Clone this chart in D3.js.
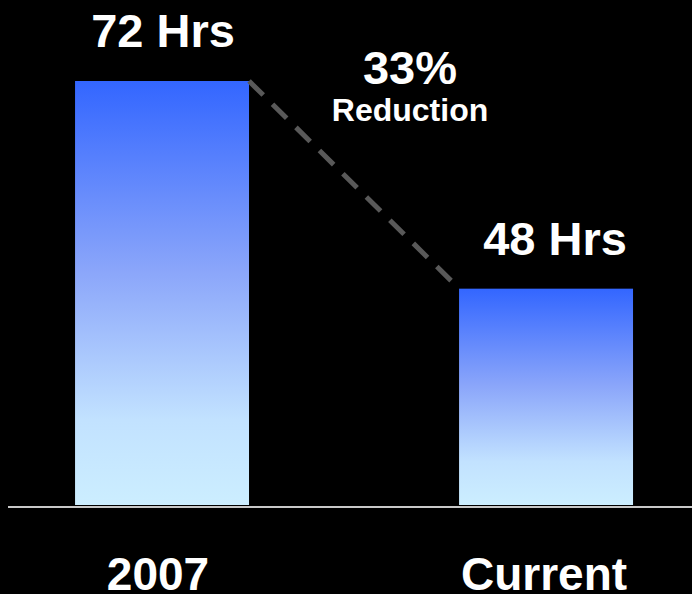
<!DOCTYPE html>
<html>
<head>
<meta charset="utf-8">
<script src="https://cdn.jsdelivr.net/npm/d3@7"></script>
<style>
  html, body { margin: 0; padding: 0; background: #000; }
  svg { display: block; }
  text { font-family: "Liberation Sans", Arial, sans-serif; font-weight: bold; fill: #fff; }
</style>
</head>
<body>
<div id="chart"></div>
<script>
// chart data
var categories = ["2007", "Current"];
var hours = [72, 48];
var valueLabels = ["72 Hrs", "48 Hrs"];
var changeLabel = "33%";
var changeSub = "Reduction";

var svgWidth = 692;
var svgHeight = 594;

var svg = d3.select("#chart")
  .append("svg")
  .attr("width", svgWidth)
  .attr("height", svgHeight);

svg.append("rect")
  .attr("width", svgWidth)
  .attr("height", svgHeight)
  .attr("fill", "#000");

// vertical gradient used by both bars
var grad = svg.append("defs").append("linearGradient")
  .attr("id", "barGrad")
  .attr("x1", 0).attr("y1", 0)
  .attr("x2", 0).attr("y2", 1);
grad.append("stop").attr("offset", "0%").attr("stop-color", "#3366ff");
grad.append("stop").attr("offset", "45%").attr("stop-color", "#8ba6fa");
grad.append("stop").attr("offset", "80%").attr("stop-color", "#c2e2ff");
grad.append("stop").attr("offset", "100%").attr("stop-color", "#cceeff");

var data = categories.map(function(c, i) {
  return { cat: c, hrs: hours[i], label: valueLabels[i] };
});

// scales
var xScale = d3.scaleBand()
  .domain(categories)
  .range([0, svgWidth])
  .paddingInner(0.547)
  .paddingOuter(0.1745)
  .align(0.56);

var yScale = d3.scaleLinear()
  .domain([23, 72])
  .range([505, 81]);

// bars
svg.selectAll("rect.bar")
  .data(data)
  .enter()
  .append("rect")
  .attr("class", "bar")
  .attr("x", d => xScale(d.cat))
  .attr("y", d => yScale(d.hrs))
  .attr("width", xScale.bandwidth())
  .attr("height", d => yScale.range()[0] - yScale(d.hrs))
  .attr("fill", "url(#barGrad)");

// baseline
svg.append("line")
  .attr("x1", 8)
  .attr("x2", svgWidth)
  .attr("y1", 507)
  .attr("y2", 507)
  .attr("stroke", "#c8c8c8")
  .attr("stroke-width", 2);

// dashed connector from top of first bar down toward second
var d0 = data[0], d1 = data[1];
var lx0 = xScale(d0.cat) + xScale.bandwidth();
var ly0 = yScale(d0.hrs);
var lx1 = xScale(d1.cat) - 8;
var ly1 = yScale(d1.hrs) - 8;
svg.append("line")
  .attr("x1", lx0)
  .attr("y1", ly0)
  .attr("x2", lx1)
  .attr("y2", ly1)
  .attr("stroke", "#595959")
  .attr("stroke-width", 5)
  .attr("stroke-dasharray", "20,13");

// value labels above bars
svg.selectAll("text.value")
  .data(data)
  .enter()
  .append("text")
  .attr("class", "value")
  .attr("x", (d, i) => xScale(d.cat) + xScale.bandwidth() / 2 + (i === 1 ? 9 : 1))
  .attr("y", d => yScale(d.hrs) - 34)
  .attr("text-anchor", "middle")
  .attr("font-size", "47px")
  .text(d => d.label);

// category labels
svg.selectAll("text.cat")
  .data(data)
  .enter()
  .append("text")
  .attr("class", "cat")
  .attr("x", (d, i) => xScale(d.cat) + xScale.bandwidth() / 2 + (i === 0 ? -4 : -2))
  .attr("y", 590)
  .attr("text-anchor", "middle")
  .attr("font-size", "46px")
  .text(d => d.cat);

// change annotation
svg.append("text")
  .attr("x", 410)
  .attr("y", 84)
  .attr("text-anchor", "middle")
  .attr("font-size", "47px")
  .text(changeLabel);

svg.append("text")
  .attr("x", 410)
  .attr("y", 121)
  .attr("text-anchor", "middle")
  .attr("font-size", "32px")
  .text(changeSub);
</script>
</body>
</html>
